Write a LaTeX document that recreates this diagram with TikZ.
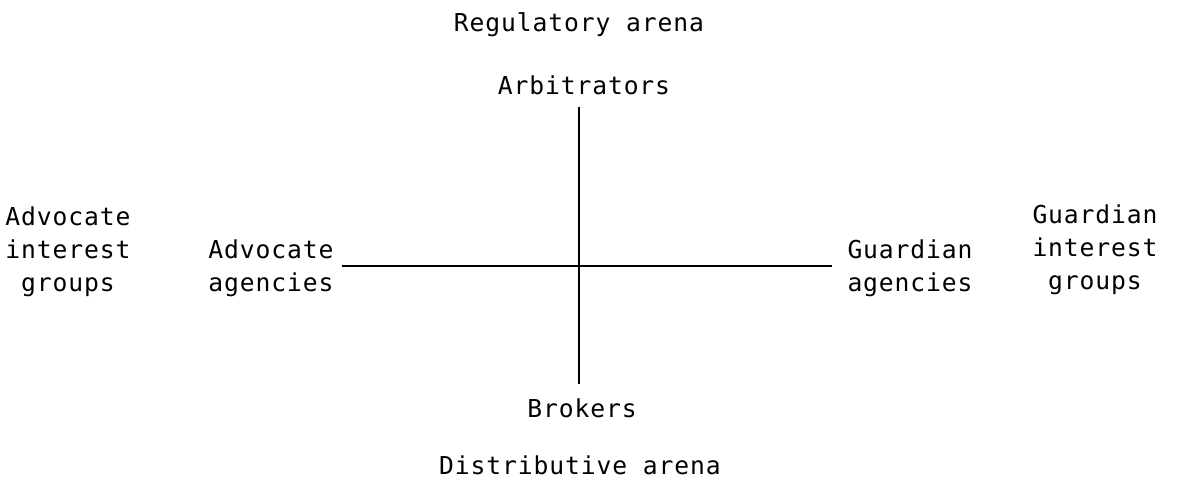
\documentclass[tikz,border=0pt]{standalone}
\usepackage{fontspec}
\newfontfamily\typefont[LetterSpace=3.6]{DejaVu Sans Mono}
\begin{document}
\begin{tikzpicture}[x=0.75pt, y=-0.75pt, line width=1.4pt,
    lbl/.style = {font=\typefont\fontsize{18.5}{24.75}\selectfont, align=center, inner sep=6pt}]
      \useasboundingbox (0,0) rectangle (1178,481);
      \coordinate (c) at (579,266);

      \node[lbl, anchor=base] (reg) at (579,32) {Regulatory arena};
      \node[lbl, anchor=base] (arb) at (584,95) {Arbitrators};
      \node[lbl, anchor=base] (bro) at (582,417) {Brokers};
      \node[lbl, anchor=base] (dist) at (580,474) {Distributive arena};

      \node[lbl] (advint) at (68,252) {Advocate\\interest\\groups};
      \node[lbl] (advag) at (271,268) {Advocate\\agencies};
      \node[lbl] (guag) at (910,268) {Guardian\\agencies};
      \node[lbl] (guint) at (1095,250) {Guardian\\interest\\groups};

      \draw[shorten <=2pt, shorten >=4pt] (c |- arb.south) -- (c |- bro.north);
      \draw[shorten >=5pt] (c -| advag.east) -- (c -| guag.west);
    \end{tikzpicture}
\end{document}
